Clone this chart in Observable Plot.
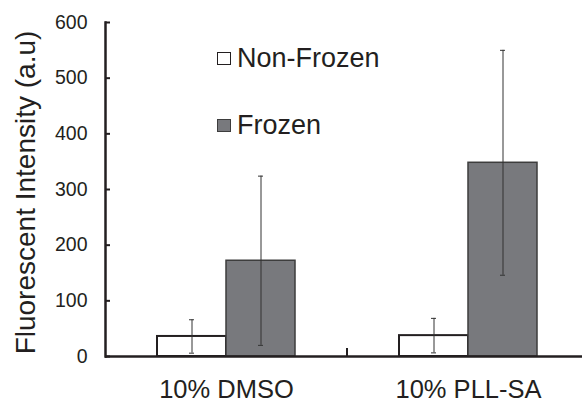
<!DOCTYPE html>
<html><head><meta charset="utf-8">
<script src="https://cdn.jsdelivr.net/npm/d3@7"></script>
<script src="https://cdn.jsdelivr.net/npm/@observablehq/plot@0.6"></script>
<style>
body{margin:0;background:#fff;overflow:hidden}
#wrap{position:relative;width:582px;height:403px}
.legend{position:absolute;left:217px;font-family:"Liberation Sans",Arial,sans-serif;font-size:27px;color:#231f20;line-height:27px;display:flex;align-items:center;white-space:nowrap}
.sw{width:12px;height:11px;margin-right:6px;border:1.5px solid #231f20;box-sizing:content-box}
</style></head><body><div id="wrap"></div>
<script>
const categories = ["10% DMSO", "10% PLL-SA"];
const series = ["Non-Frozen", "Frozen"];
const nonFrozen = [36, 37.5];
const nonFrozenErr = [30, 31];
const frozen = [172, 348];
const frozenErr = [152, 202];
const yTicks = [0, 100, 200, 300, 400, 500, 600];
const yLabel = "Fluorescent Intensity (a.u)";
const fills = ["#ffffff", "#78797d"];
const strokes = ["#231f20", "#3d3d3d"];

const rows = categories.flatMap((c, i) => [
  {cat: c, series: series[0], value: nonFrozen[i], err: nonFrozenErr[i]},
  {cat: c, series: series[1], value: frozen[i], err: frozenErr[i]}
]);

const ink = "#231f20";
const plot = Plot.plot({
  width: 582, height: 403,
  marginLeft: 104, marginRight: 0, marginTop: 22, marginBottom: 47,
  style: {fontFamily: "'Liberation Sans', Arial, sans-serif", color: ink, background: "#fff"},
  fx: {domain: categories, range: [104, 589], paddingInner: 0, paddingOuter: 0, label: null},
  x: {domain: series, paddingInner: 0, paddingOuter: 0.732, axis: null},
  y: {domain: [0, 600], label: null},
  marks: [
    ...series.map((s, k) => Plot.barY(rows.filter(d => d.series === s), {
      fx: "cat", x: "series", y: "value", fill: fills[k], stroke: strokes[k], strokeWidth: k === 0 ? 2 : 1.5
    })),
    Plot.ruleX(rows, {fx: "cat", x: "series", y1: d => d.value - d.err, y2: d => d.value + d.err, stroke: "#333", strokeWidth: 1}),
    Plot.tickY(rows, {fx: "cat", x: "series", y: d => d.value - d.err, stroke: "#333", strokeWidth: 1, insetLeft: 32, insetRight: 32}),
    Plot.tickY(rows, {fx: "cat", x: "series", y: d => d.value + d.err, stroke: "#333", strokeWidth: 1, insetLeft: 32, insetRight: 32}),
    Plot.ruleY([0], {stroke: ink, strokeWidth: 2.5}),
    Plot.frame({anchor: "left", facetAnchor: "left", stroke: ink, strokeWidth: 2.5}),
    Plot.axisY({ticks: yTicks, tickSize: -5, tickPadding: 23, fontSize: 19.5, tickFormat: d => String(d), label: null, stroke: ink, strokeWidth: 2, fill: ink}),
    Plot.axisFx({anchor: "bottom", tickSize: 0, tickPadding: 23, fontSize: 25.5, label: null, fill: ink}),
    Plot.text([yLabel], {frameAnchor: "left", rotate: -90, textAnchor: "middle", lineAnchor: "middle", dx: -79, dy: 3, fontSize: 28, fill: ink, facetAnchor: "left"})
  ]
});

const wrap = document.getElementById("wrap");
wrap.appendChild(plot);

// category divider ticks on the x axis
const fxS = plot.scale("fx"), yS = plot.scale("y");
const svg = d3.select(plot);
categories.slice(1).forEach(c => {
  const x = fxS.apply(c);
  svg.append("line").attr("x1", x).attr("x2", x)
    .attr("y1", yS.apply(0)).attr("y2", yS.apply(0) - 8)
    .attr("stroke", ink).attr("stroke-width", 2);
});

// legend
series.forEach((s, k) => {
  const div = document.createElement("div");
  div.className = "legend";
  div.style.top = (45 + k * 67) + "px";
  const sw = document.createElement("span");
  sw.className = "sw";
  sw.style.background = fills[k];
  sw.style.borderColor = strokes[k];
  div.appendChild(sw);
  div.appendChild(document.createTextNode(s));
  wrap.appendChild(div);
});
</script></body></html>
